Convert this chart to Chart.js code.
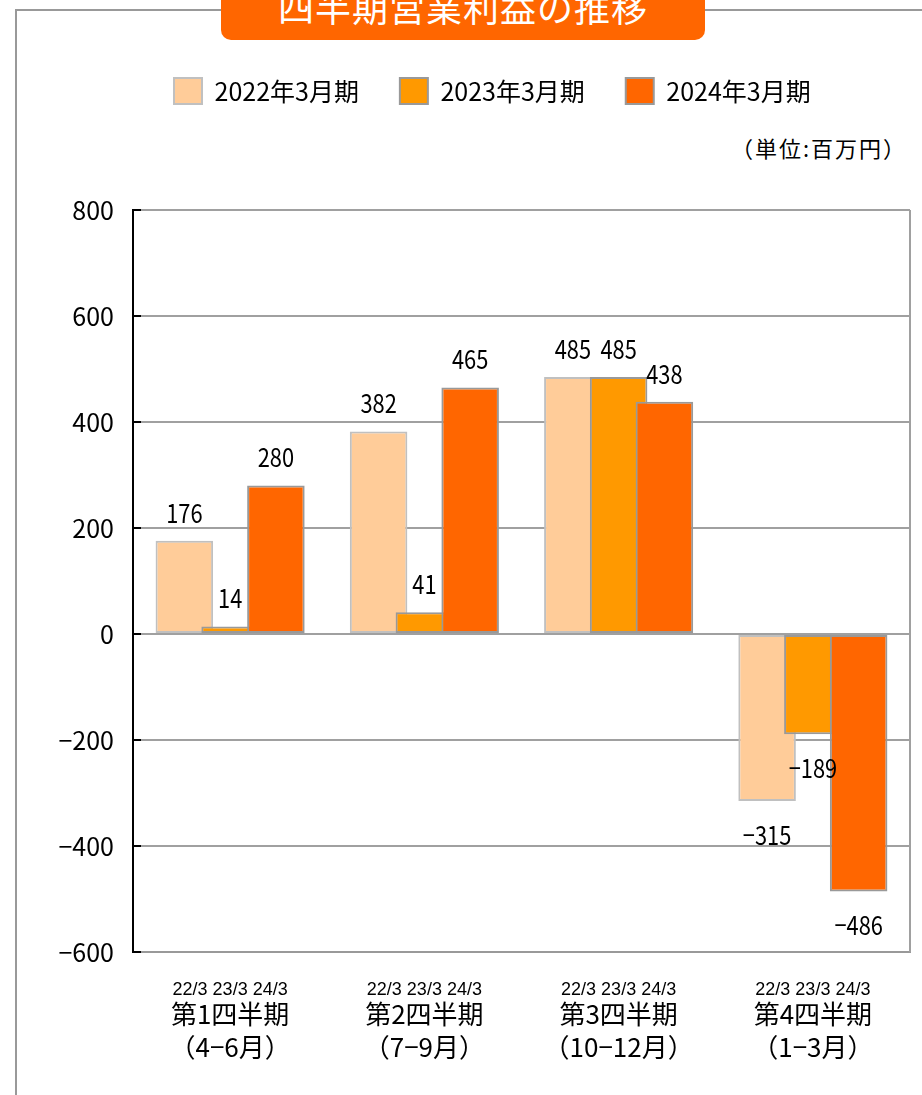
<!DOCTYPE html>
<html lang="ja">
<head>
<meta charset="utf-8">
<title>四半期営業利益の推移</title>
<script src="https://cdn.jsdelivr.net/npm/chart.js@4.4.1/dist/chart.umd.min.js"></script>
<style>
  html, body { margin: 0; padding: 0; background: #fff; }
  body { width: 922px; height: 1095px; position: relative; overflow: hidden;
         font-family: "Noto Sans CJK JP", sans-serif; }
  #frame { position: absolute; left: 15px; top: 9px; width: 1000px; height: 1200px;
           border: 2px solid #999; box-sizing: border-box; }
  #titleBox { position: absolute; left: 221px; top: -10px; width: 484px; height: 50px;
              background: #ff6600; border-radius: 0 0 10px 10px; }
  #titleText { position: absolute; left: 221px; width: 484px; top: -12px; line-height: 36px;
               font-size: 36px; color: #fff; text-align: center; letter-spacing: 1px; }
  #unit { position: absolute; right: 15px; top: 136px; font-size: 22px; line-height: 22px;
          letter-spacing: 2px; color: #000; }
  #chart { position: absolute; left: 0; top: 0; }
</style>
</head>
<body>
<div id="frame"></div>
<div id="titleBox"></div>
<div id="titleText">四半期営業利益の推移</div>
<div id="unit">（単位:百万円）</div>
<canvas id="chart" width="922" height="1095"></canvas>
<script>
const quarterLabels = [
  ["第1四半期", "（4−6月）"],
  ["第2四半期", "（7−9月）"],
  ["第3四半期", "（10−12月）"],
  ["第4四半期", "（1−3月）"]
];
const periodLabels = ["22/3 23/3 24/3", "22/3 23/3 24/3", "22/3 23/3 24/3", "22/3 23/3 24/3"];
const seriesNames = ["2022年3月期", "2023年3月期", "2024年3月期"];
const fy2022 = [176, 382, 485, -315];
const fy2023 = [14, 41, 485, -189];
const fy2024 = [280, 465, 438, -486];
const yMin = -600, yMax = 800, yStep = 200;

const FONT = '"Noto Sans CJK JP", sans-serif';
const fmt = v => (v < 0 ? "−" + Math.abs(v) : String(v));

// 凡例の下に余白をとる
const legendSpace = {
  id: "legendSpace",
  beforeInit(chart) {
    const fit = chart.legend.fit;
    chart.legend.fit = function () { fit.call(this); this.height = 173; };
  }
};

// 右側の系列を上に重ねて描く
const drawOrder = {
  id: "drawOrder",
  beforeDatasetsDraw(chart) {
    chart.data.datasets.forEach((ds, i) => {
      if (chart.isDatasetVisible(i)) chart.getDatasetMeta(i).controller.draw();
    });
    return false;
  }
};

// 右枠・内向き目盛・数値ラベル
const extras = {
  id: "extras",
  afterDraw(chart) {
    const ctx = chart.ctx, area = chart.chartArea, y = chart.scales.y;
    ctx.save();
    ctx.strokeStyle = "#a0a0a0";
    ctx.lineWidth = 2;
    ctx.beginPath();
    ctx.moveTo(area.right, area.top);
    ctx.lineTo(area.right, area.bottom);
    ctx.stroke();

    ctx.strokeStyle = "#000";
    y.ticks.forEach(t => {
      const py = y.getPixelForValue(t.value);
      ctx.beginPath();
      ctx.moveTo(area.left, py);
      ctx.lineTo(area.left + 8, py);
      ctx.stroke();
    });

    ctx.fillStyle = "#000";
    ctx.font = "26px " + FONT;
    ctx.textAlign = "center";
    ctx.textBaseline = "middle";
    chart.data.datasets.forEach((ds, i) => {
      chart.getDatasetMeta(i).data.forEach((bar, j) => {
        const v = ds.data[j];
        const ty = v >= 0 ? bar.y - 28 : bar.y + 34;
        ctx.save();
        ctx.translate(bar.x, ty);
        ctx.scale(0.84, 1);
        ctx.fillText(fmt(v), 0, 0);
        ctx.restore();
      });
    });
    ctx.restore();
  }
};

new Chart(document.getElementById("chart"), {
  type: "bar",
  data: {
    labels: quarterLabels,
    datasets: [
      { label: seriesNames[0], data: fy2022, backgroundColor: "#ffcc99", borderColor: "#c0c0c0" },
      { label: seriesNames[1], data: fy2023, backgroundColor: "#ff9900", borderColor: "#999999" },
      { label: seriesNames[2], data: fy2024, backgroundColor: "#ff6600", borderColor: "#999999" }
    ].map(d => Object.assign(d, {
      borderWidth: 2,
      borderSkipped: false,
      categoryPercentage: 0.707,
      barPercentage: 1.257
    }))
  },
  options: {
    responsive: false,
    devicePixelRatio: 1,
    animation: false,
    layout: { padding: { left: 0, right: 12, top: 37, bottom: 0 } },
    plugins: {
      tooltip: { enabled: false },
      legend: {
        position: "top",
        fullSize: false,
        align: "start",
        labels: {
          boxWidth: 28,
          boxHeight: 26,
          padding: 41,
          color: "#000",
          font: { family: FONT, size: 25 }
        }
      }
    },
    scales: {
      x: {
        type: "category",
        labels: periodLabels,
        position: "bottom",
        weight: 0,
        offset: true,
        grid: { display: false },
        border: { color: "#999", width: 2 },
        ticks: { color: "#000", font: { family: '"Liberation Sans", sans-serif', size: 18 },
                 padding: 19, autoSkip: false, maxRotation: 0 },
        afterFit(s) { s.height = 48; }
      },
      x2: {
        type: "category",
        labels: quarterLabels,
        position: "bottom",
        weight: 1,
        offset: true,
        grid: { display: false },
        border: { display: false },
        ticks: { color: "#000", font: { family: FONT, size: 26, lineHeight: 1.25 },
                 padding: -10, autoSkip: false, maxRotation: 0 },
        afterFit(s) { s.height = 95; }
      },
      y: {
        min: yMin,
        max: yMax,
        ticks: { stepSize: yStep, color: "#000", padding: 19,
                 font: { family: FONT, size: 25 }, callback: v => fmt(v) },
        grid: { color: "#a0a0a0", lineWidth: 2, drawTicks: false },
        border: { color: "#000", width: 2 },
        afterFit(s) { s.width = 133; }
      }
    }
  },
  plugins: [legendSpace, drawOrder, extras]
});
</script>
</body>
</html>
